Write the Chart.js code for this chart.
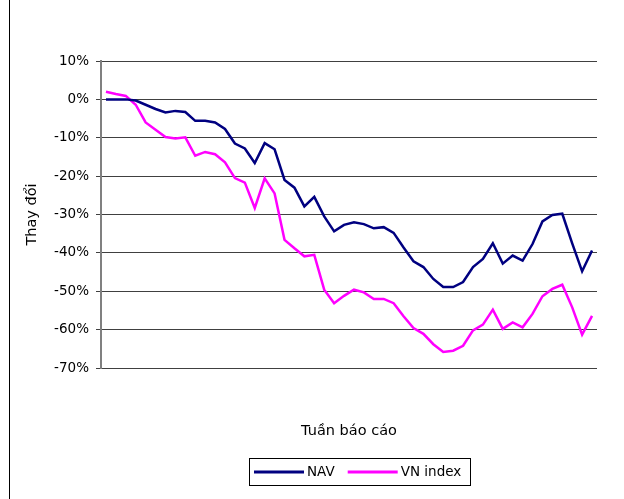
<!DOCTYPE html>
<html>
<head>
<meta charset="utf-8">
<script src="https://cdn.jsdelivr.net/npm/chart.js@4"></script>
<style>
  html, body { margin: 0; padding: 0; background: #fff; }
  #wrap { width: 624px; height: 499px; position: relative; }
</style>
</head>
<body>
<div id="wrap"><canvas id="navChart" width="624" height="499"></canvas></div>
<script>
// weekly report numbers (x labels are not shown on the chart)
const weeks = [1,2,3,4,5,6,7,8,9,10,11,12,13,14,15,16,17,18,19,20,21,22,23,24,25,
  26,27,28,29,30,31,32,33,34,35,36,37,38,39,40,41,42,43,44,45,46,47,48,49,50];

// % change
const navValues = [0,0,0,-0.3,-1.4,-2.5,-3.4,-3.0,-3.3,-5.6,
  -5.6,-6.0,-7.7,-11.5,-12.8,-16.6,-11.4,-13.0,-21.0,-23.0,
  -27.9,-25.4,-30.5,-34.4,-32.7,-32.0,-32.5,-33.6,-33.3,-34.8,
  -38.6,-42.2,-43.7,-46.8,-48.9,-48.9,-47.6,-43.7,-41.6,-37.5,
  -42.8,-40.7,-42.0,-37.7,-31.8,-30.1,-29.8,-37.5,-44.8,-39.4];

const vnIndexValues = [2.0,1.4,0.9,-1.4,-6.0,-7.9,-9.8,-10.2,-9.9,-14.7,
  -13.7,-14.3,-16.4,-20.5,-21.7,-28.3,-20.6,-24.5,-36.6,-38.8,
  -40.9,-40.5,-49.6,-53.1,-51.2,-49.6,-50.3,-52.0,-52.0,-53.1,
  -56.5,-59.6,-61.1,-63.8,-65.8,-65.5,-64.2,-60.2,-58.7,-54.8,
  -59.8,-58.1,-59.4,-55.9,-51.3,-49.4,-48.3,-54.2,-61.3,-56.4];

const yTicks = [10,0,-10,-20,-30,-40,-50,-60,-70];

const FONT = '"DejaVu Sans", Verdana, sans-serif';

// white background + left frame line
const frame = {
  id: 'frame',
  beforeDraw(chart){
    const ctx = chart.ctx;
    ctx.save();
    ctx.fillStyle = '#fff';
    ctx.fillRect(0, 0, chart.width, chart.height);
    ctx.strokeStyle = '#000';
    ctx.lineWidth = 1;
    ctx.beginPath();
    ctx.moveTo(9.5, 0);
    ctx.lineTo(9.5, chart.height);
    ctx.stroke();
    ctx.restore();
  }
};

// boxed legend like the Excel one
const legendBox = {
  id: 'legendBox',
  afterDraw(chart){
    const ctx = chart.ctx;
    ctx.save();
    ctx.font = '13.5px ' + FONT;
    const items = chart.data.datasets.map(d => ({
      label: d.label, color: d.borderColor, w: ctx.measureText(d.label).width
    }));
    const lineW = 50, gap = 3, itemGap = 13, padL = 5, padR = 9;
    const total = padL + padR + items.reduce((s, it) => s + lineW + gap + it.w, 0) + itemGap * (items.length - 1);
    const cx = 360, top = 458, h = 27;
    let x = Math.round(cx - total / 2);
    ctx.strokeStyle = '#000';
    ctx.lineWidth = 1;
    ctx.strokeRect(x + 0.5, top + 0.5, Math.round(total), h);
    const cy = top + h / 2 + 0.5;
    x += padL;
    ctx.textBaseline = 'middle';
    ctx.fillStyle = '#000';
    items.forEach(it => {
      ctx.strokeStyle = it.color;
      ctx.lineWidth = 3;
      ctx.beginPath();
      ctx.moveTo(x, cy);
      ctx.lineTo(x + lineW, cy);
      ctx.stroke();
      x += lineW + gap;
      ctx.fillText(it.label, x, cy);
      x += it.w + itemGap;
    });
    ctx.restore();
  }
};

new Chart(document.getElementById('navChart'), {
  type: 'line',
  data: {
    labels: weeks,
    datasets: [
      {label: 'NAV', data: navValues, borderColor: '#000080', backgroundColor: '#000080',
       borderWidth: 2.5, pointRadius: 0, tension: 0, fill: false},
      {label: 'VN index', data: vnIndexValues, borderColor: '#ff00ff', backgroundColor: '#ff00ff',
       borderWidth: 2.5, pointRadius: 0, tension: 0, fill: false}
    ]
  },
  options: {
    responsive: false,
    animation: false,
    devicePixelRatio: 1,
    layout: {padding: {top: 61, right: 27, bottom: 49, left: 0}},
    plugins: {legend: {display: false}, tooltip: {enabled: false}},
    scales: {
      x: {
        type: 'category',
        offset: true,
        grid: {display: false},
        border: {display: false},
        ticks: {display: false},
        title: {display: true, text: 'Tuần báo cáo', color: '#000',
                font: {family: FONT, size: 14.5}, padding: {top: 0, bottom: 10}},
        afterFit(s){ s.height = 82; }
      },
      y: {
        min: yTicks[yTicks.length - 1],
        max: yTicks[0],
        ticks: {stepSize: 10, color: '#000', padding: 7,
                font: {family: FONT, size: 13.5},
                callback: v => v + '%'},
        grid: {color: '#404040', lineWidth: 1, tickLength: 5},
        border: {color: '#808080', width: 2},
        title: {display: true, text: 'Thay đổi', color: '#000',
                font: {family: FONT, size: 14.5}, padding: {top: 24, bottom: 0}},
        afterFit(s){ s.width = 101; }
      }
    }
  },
  plugins: [frame, legendBox]
});
</script>
</body>
</html>
